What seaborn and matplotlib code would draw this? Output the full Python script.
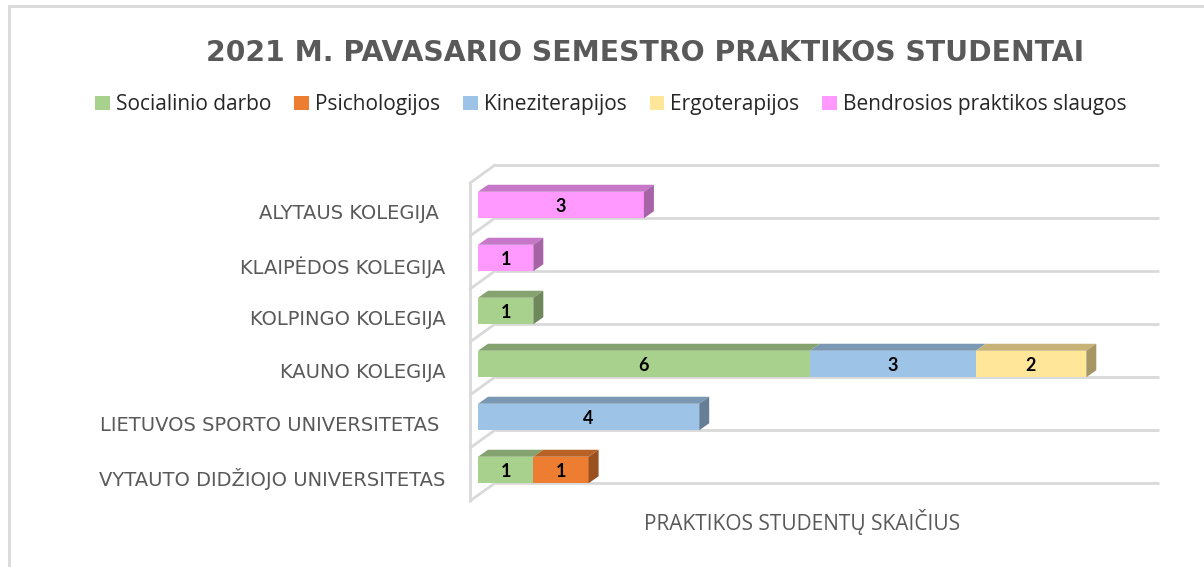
import numpy as np
import pandas as pd
import matplotlib
matplotlib.use("Agg")
import matplotlib.pyplot as plt
import matplotlib.colors as mcolors
from matplotlib.patches import Patch, Polygon, Rectangle
import seaborn as sns

# ---------------- data ----------------
categories = [
    "ALYTAUS KOLEGIJA ",
    "KLAIPĖDOS KOLEGIJA",
    "KOLPINGO KOLEGIJA",
    "KAUNO KOLEGIJA",
    "LIETUVOS SPORTO UNIVERSITETAS ",
    "VYTAUTO DIDŽIOJO UNIVERSITETAS",
]
series_names = ["Socialinio darbo", "Psichologijos", "Kineziterapijos",
                "Ergoterapijos", "Bendrosios praktikos slaugos"]
socialinio = [0, 0, 1, 6, 0, 1]
psichologijos = [0, 0, 0, 0, 0, 1]
kineziterapijos = [0, 0, 0, 3, 4, 0]
ergoterapijos = [0, 0, 0, 2, 0, 0]
bendrosios = [3, 1, 0, 0, 0, 0]
series_colors = ["#a9d18e", "#ed7d31", "#9dc3e6", "#ffe699", "#ff99ff"]

title = "2021 M. PAVASARIO SEMESTRO PRAKTIKOS STUDENTAI"
xlabel = "PRAKTIKOS STUDENTŲ SKAIČIUS"
x_max = 12

values = np.array([socialinio, psichologijos, kineziterapijos, ergoterapijos, bendrosios], dtype=float)
cum = np.cumsum(values, axis=0)

# ---------------- style ----------------
sns.set_theme(style="white")
plt.rcParams["font.family"] = ["Open Sans", "DejaVu Sans"]
GRAY = "#595959"
GRID = "#d9d9d9"

W, H = 1204, 567
fig = plt.figure(figsize=(W / 100, H / 100), dpi=100)

# axes placement (pixels)
ax_l, ax_r, ax_t, ax_b = 455, 1180, 150, 510
ax = fig.add_axes([ax_l / W, 1 - ax_b / H, (ax_r - ax_l) / W, (ax_b - ax_t) / H])

unit_x = 55.3   # px per student
unit_y = 53.0   # px per category
x0_px = 478
y0_px = 205
xlim = ((ax_l - x0_px) / unit_x, (ax_r - x0_px) / unit_x)
ylim = ((ax_b - y0_px) / unit_y, (ax_t - y0_px) / unit_y)

def darken(c, f):
    r, g, b = mcolors.to_rgb(c)
    return (r * f, g * f, b * f)

# depth offsets of 3D faces (in data units)
dx = 10 / unit_x
dy = -7 / unit_y
bar_h = 0.5

# ---- back wall grid (3D box) ----
back_dx = 17 / unit_x
front_dx = -8 / unit_x
front_dy = 18 / unit_y
grid_y = np.arange(-1, len(categories)) + 0.245
x_end = back_dx + x_max
for g in grid_y:
    ax.plot([back_dx, x_end], [g, g], color=GRID, lw=2, zorder=0.5, solid_capstyle="butt")
    ax.plot([front_dx, back_dx], [g + front_dy, g], color=GRID, lw=2, zorder=0.5)
ax.plot([front_dx, front_dx], [grid_y[0] + front_dy, grid_y[-1] + front_dy],
        color=GRID, lw=2, zorder=0.5)

# ---- front faces through seaborn (stacked via overlapping cumulative bars) ----
for j in range(len(series_names) - 1, -1, -1):
    df = pd.DataFrame({"cat": categories, "val": cum[j]})
    sns.barplot(data=df, x="val", y="cat", order=categories, orient="h",
                color=series_colors[j], saturation=1, width=bar_h,
                linewidth=0, ax=ax, zorder=2)

# ---- top and side faces + value labels ----
for k in range(len(categories)):
    ytop = k - bar_h / 2
    ybot = k + bar_h / 2
    last = None
    for j in range(len(series_names)):
        v = values[j, k]
        if v <= 0:
            continue
        left = cum[j, k] - v
        right = cum[j, k]
        top = Polygon([[left, ytop], [right, ytop], [right + dx, ytop + dy], [left + dx, ytop + dy]],
                      closed=True, facecolor=darken(series_colors[j], 0.78), edgecolor="none", zorder=3)
        ax.add_patch(top)
        ax.text((left + right) / 2, k + 0.02, f"{int(v)}", ha="center", va="center",
                fontsize=13, fontweight="bold", color="black", family=["Lato", "DejaVu Sans"], zorder=5)
        last = (j, right)
    if last is not None:
        j, right = last
        side = Polygon([[right, ytop], [right + dx, ytop + dy], [right + dx, ybot + dy], [right, ybot]],
                       closed=True, facecolor=darken(series_colors[j], 0.65), edgecolor="none", zorder=3)
        ax.add_patch(side)

ax.set_xlim(*xlim)
ax.set_ylim(*ylim)
ax.set_xlabel("")
ax.set_ylabel("")
ax.set_xticks([])
ax.set_yticks(np.arange(len(categories)) + 0.13)
ax.set_yticklabels(categories, color=GRAY, fontsize=14, family=["DejaVu Sans"])
ax.tick_params(axis="y", length=0, pad=7)
for s in ax.spines.values():
    s.set_visible(False)
ax.patch.set_alpha(0)

# ---- texts ----
fig.text(645 / W, 1 - 53 / H, title, ha="center", va="center", fontsize=20.3,
         fontweight="bold", color=GRAY, family=["DejaVu Sans"])
fig.text(802 / W, 1 - 522 / H, xlabel, ha="center", va="center", fontsize=15, color=GRAY)

handles = [Patch(facecolor=c, edgecolor="none") for c in series_colors]
fig.legend(handles, series_names, loc="center", bbox_to_anchor=(611 / W, 1 - 105 / H),
           ncol=5, frameon=False, handlelength=0.7, handleheight=0.7,
           handletextpad=0.3, columnspacing=1.1,
           prop={"family": ["Open Sans", "DejaVu Sans"], "size": 15})

# ---- chart border ----
fig.add_artist(Rectangle((9 / W, -0.2), 1.5, 1.2 - 6 / H, transform=fig.transFigure,
                         fill=False, edgecolor=GRID, lw=2))

fig.savefig("out.png", dpi=100)
